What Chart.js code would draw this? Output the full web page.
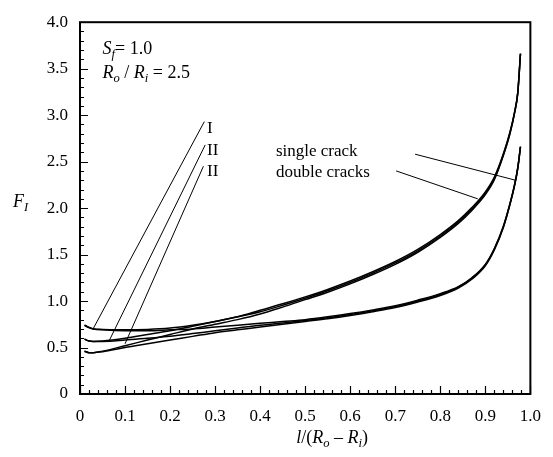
<!DOCTYPE html>
<html>
<head>
<meta charset="utf-8">
<script src="https://cdn.jsdelivr.net/npm/chart.js@4.4.1/dist/chart.umd.min.js"></script>
<style>
html,body{margin:0;padding:0;background:#fff;}
canvas{display:block;}
</style>
</head>
<body>
<canvas id="c" width="553" height="457"></canvas>
<script>
// ---- data ----
const crackLength = [0.01, 0.02, 0.03, 0.05, 0.1, 0.15, 0.2, 0.25, 0.3, 0.35, 0.4, 0.45, 0.5, 0.55, 0.6, 0.65, 0.7, 0.75, 0.8, 0.84, 0.87, 0.9, 0.92, 0.94, 0.955, 0.965, 0.972, 0.978];

const doubleI   = [0.74, 0.715, 0.70, 0.695, 0.69, 0.695, 0.71, 0.74, 0.78, 0.83, 0.90, 0.97, 1.045, 1.125, 1.215, 1.315, 1.425, 1.555, 1.715, 1.865, 2.005, 2.175, 2.335, 2.585, 2.825, 3.035, 3.245, 3.66];
const doubleII  = [0.59, 0.57, 0.565, 0.57, 0.60, 0.64, 0.68, 0.73, 0.78, 0.83, 0.885, 0.955, 1.03, 1.11, 1.20, 1.30, 1.41, 1.54, 1.70, 1.85, 1.99, 2.16, 2.32, 2.575, 2.815, 3.03, 3.24, 3.66];
const doubleIII = [0.46, 0.445, 0.445, 0.46, 0.52, 0.58, 0.64, 0.70, 0.75, 0.80, 0.86, 0.935, 1.015, 1.095, 1.185, 1.285, 1.395, 1.525, 1.685, 1.835, 1.975, 2.145, 2.305, 2.565, 2.805, 3.025, 3.235, 3.66];

const singleI   = [0.74, 0.715, 0.70, 0.69, 0.68, 0.68, 0.69, 0.70, 0.72, 0.74, 0.76, 0.78, 0.80, 0.83, 0.865, 0.905, 0.95, 1.01, 1.08, 1.155, 1.25, 1.395, 1.565, 1.805, 2.055, 2.255, 2.435, 2.66];
const singleII  = [0.59, 0.57, 0.565, 0.565, 0.58, 0.60, 0.62, 0.65, 0.68, 0.71, 0.74, 0.765, 0.79, 0.82, 0.855, 0.895, 0.94, 1.00, 1.07, 1.15, 1.245, 1.39, 1.56, 1.80, 2.05, 2.25, 2.43, 2.66];
const singleIII = [0.46, 0.445, 0.445, 0.455, 0.50, 0.54, 0.58, 0.62, 0.66, 0.69, 0.72, 0.75, 0.78, 0.81, 0.845, 0.885, 0.93, 0.99, 1.06, 1.14, 1.235, 1.38, 1.55, 1.79, 2.045, 2.245, 2.425, 2.66];

const xTickValues = [0, 0.1, 0.2, 0.3, 0.4, 0.5, 0.6, 0.7, 0.8, 0.9, 1.0];
const xTickLabels = ['0', '0.1', '0.2', '0.3', '0.4', '0.5', '0.6', '0.7', '0.8', '0.9', '1.0'];
const yTickValues = [0, 0.5, 1.0, 1.5, 2.0, 2.5, 3.0, 3.5, 4.0];
const yTickLabels = ['0', '0.5', '1.0', '1.5', '2.0', '2.5', '3.0', '3.5', '4.0'];

// annotation labels: [text, x, y] in data units
const caseLabels = [['I', 0.282, 2.86], ['II', 0.282, 2.62], ['II', 0.282, 2.39]];
const caseLeaders = [[0.276, 2.93, 0.029, 0.70], [0.278, 2.68, 0.064, 0.565], [0.274, 2.45, 0.10, 0.54]];
const curveLabels = [['single crack', 0.435, 2.61], ['double cracks', 0.435, 2.38]];
const curveLeaders = [[0.744, 2.58, 0.967, 2.30], [0.702, 2.40, 0.883, 2.10]];

const FONT = '"Liberation Serif", "Times New Roman", serif';

function pts(ys) { return crackLength.map((x, i) => ({x: x, y: ys[i]})); }
function ds(label, ys) {
  return {label, data: pts(ys), borderColor: '#000', borderWidth: 1.5, pointRadius: 0,
          fill: false, cubicInterpolationMode: 'monotone'};
}

function drawRuns(ctx, runs, x, y, size) {
  let cx = x;
  for (const r of runs) {
    const s = r.sub ? size * 0.7 : size;
    ctx.font = (r.italic ? 'italic ' : '') + s + 'px ' + FONT;
    ctx.fillText(r.t, cx, y + (r.sub ? size * 0.3 : 0));
    cx += ctx.measureText(r.t).width;
  }
  return cx - x;
}
function runsWidth(ctx, runs, size) {
  let w = 0;
  for (const r of runs) {
    const s = r.sub ? size * 0.7 : size;
    ctx.font = (r.italic ? 'italic ' : '') + s + 'px ' + FONT;
    w += ctx.measureText(r.t).width;
  }
  return w;
}

const decor = {
  id: 'decor',
  afterDraw(chart) {
    const ctx = chart.ctx, a = chart.chartArea;
    const xs = chart.scales.x, ys = chart.scales.y;
    ctx.save();
    ctx.strokeStyle = '#000';
    ctx.fillStyle = '#000';
    // inward ticks
    ctx.lineWidth = 1.2;
    ctx.beginPath();
    for (let i = 0; i <= 50; i++) {
      const v = i / 50;
      const px = Math.round(xs.getPixelForValue(v)) + 0.5;
      const len = (i % 5 === 0) ? 8 : 4;
      ctx.moveTo(px, a.bottom); ctx.lineTo(px, a.bottom - len);
    }
    for (let i = 0; i <= 40; i++) {
      const v = i / 10;
      const py = Math.round(ys.getPixelForValue(v)) + 0.5;
      const len = (i % 5 === 0) ? 8 : 4;
      ctx.moveTo(a.left, py); ctx.lineTo(a.left + len, py);
    }
    ctx.stroke();
    // frame
    ctx.lineWidth = 2;
    ctx.strokeRect(a.left, a.top, a.right - a.left, a.bottom - a.top);

    // leaders
    ctx.lineWidth = 1;
    ctx.beginPath();
    for (const l of caseLeaders.concat(curveLeaders)) {
      ctx.moveTo(xs.getPixelForValue(l[0]), ys.getPixelForValue(l[1]));
      ctx.lineTo(xs.getPixelForValue(l[2]), ys.getPixelForValue(l[3]));
    }
    ctx.stroke();

    ctx.textBaseline = 'middle';
    ctx.textAlign = 'left';
    for (const t of caseLabels.concat(curveLabels)) {
      ctx.font = '17px ' + FONT;
      ctx.fillText(t[0], xs.getPixelForValue(t[1]), ys.getPixelForValue(t[2]));
    }

    // parameter block
    const px0 = xs.getPixelForValue(0.05);
    drawRuns(ctx, [{t: 'S', italic: true}, {t: 'f', italic: true, sub: true}, {t: '= 1.0'}], px0, ys.getPixelForValue(3.71), 18);
    drawRuns(ctx, [{t: 'R', italic: true}, {t: 'o', italic: true, sub: true}, {t: ' / '}, {t: 'R', italic: true}, {t: 'i', italic: true, sub: true}, {t: ' = 2.5'}], px0, ys.getPixelForValue(3.45), 18);

    // y-axis title
    drawRuns(ctx, [{t: 'F', italic: true}, {t: 'I', italic: true, sub: true}], 13, (a.top + a.bottom) / 2 - 6, 18);

    // x-axis title
    const xt = [{t: 'l', italic: true}, {t: '/('}, {t: 'R', italic: true}, {t: 'o', italic: true, sub: true}, {t: ' \u2013 '}, {t: 'R', italic: true}, {t: 'i', italic: true, sub: true}, {t: ')'}];
    const w = runsWidth(ctx, xt, 18);
    drawRuns(ctx, xt, xs.getPixelForValue(0.56) - w / 2, 438, 18);
    ctx.restore();
  }
};

new Chart(document.getElementById('c'), {
  type: 'line',
  data: {
    datasets: [ds('double I', doubleI), ds('double II', doubleII), ds('double III', doubleIII),
               ds('single I', singleI), ds('single II', singleII), ds('single III', singleIII)]
  },
  options: {
    responsive: false,
    animation: false,
    devicePixelRatio: 1,
    layout: {padding: {left: 0, top: 16, right: 20, bottom: 0}},
    plugins: {legend: {display: false}, tooltip: {enabled: false}},
    scales: {
      x: {
        type: 'linear', min: 0, max: 1,
        afterBuildTicks: s => { s.ticks = xTickValues.map(v => ({value: v})); },
        ticks: {callback: (v, i) => xTickLabels[i], color: '#000', font: {family: FONT, size: 17}, padding: 12, maxRotation: 0, autoSkip: false},
        grid: {display: false, drawTicks: false},
        border: {display: false},
        afterFit: s => { s.height = 63; }
      },
      y: {
        type: 'linear', min: 0, max: 4,
        afterBuildTicks: s => { s.ticks = yTickValues.map(v => ({value: v})); },
        ticks: {callback: (v, i) => yTickLabels[i], color: '#000', font: {family: FONT, size: 17}, padding: 12, autoSkip: false},
        grid: {display: false, drawTicks: false},
        border: {display: false},
        afterFit: s => { s.width = 80; }
      }
    }
  },
  plugins: [decor]
});
</script>
</body>
</html>
